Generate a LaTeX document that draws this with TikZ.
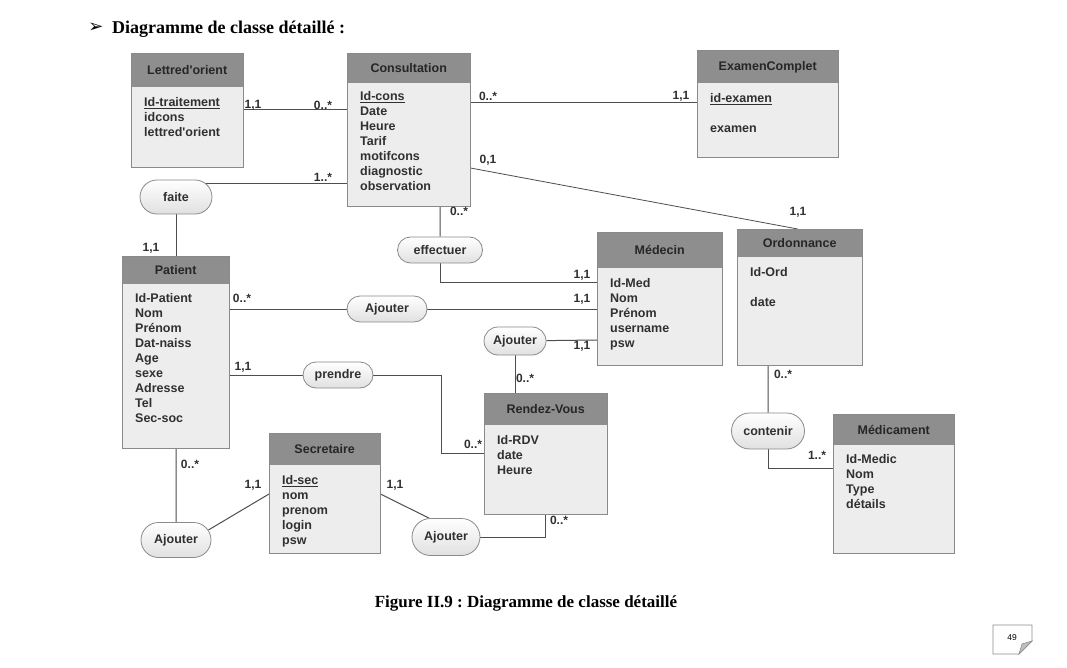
\documentclass[tikz,border=0pt]{standalone}
\usepackage{fontspec}
\setmainfont{Liberation Serif}
\newfontfamily\arialf{Liberation Sans}
\newfontfamily\dejavu{DejaVu Sans}
\usetikzlibrary{shapes.misc,calc}
\pgfdeclarelayer{bg}
\pgfsetlayers{bg,main}
\definecolor{hdrgray}{HTML}{8E8E8E}
\definecolor{bodygray}{HTML}{EDEDED}
\definecolor{bordergray}{HTML}{8A8A8A}
\definecolor{txtgray}{HTML}{303030}
\definecolor{linegray}{HTML}{4E4E4E}
\tikzset{
  boxbody/.style={fill=bodygray, draw=none, inner sep=0pt, anchor=north west},
  boxline/.style={draw=bordergray, line width=0.9pt},
  hdrtext/.style={font=\arialf\bfseries\fontsize{12.5}{15}\selectfont, text=black!85, inner sep=0pt, anchor=base},
  attrtext/.style={font=\arialf\bfseries\fontsize{12.5}{15}\selectfont, text=txtgray, inner sep=0pt, align=left, anchor=north west},
  pill/.style={rounded rectangle, draw=bordergray, line width=0.8pt, top color=white, bottom color=black!12, font=\arialf\bfseries\fontsize{12.5}{15}\selectfont, text=txtgray, inner sep=0pt},
  lab/.style={font=\arialf\bfseries\fontsize{12}{14}\selectfont, text=txtgray, inner sep=0pt},
  conn/.style={draw=linegray, line width=1pt},
}
\newcommand\umlclass[9]{%
  \node[boxbody, minimum width=#4pt, minimum height=#5pt] (#1) at (#2,#3) {};
  \fill[hdrgray] (#1.north west) rectangle ([yshift=-#6pt]#1.north east);
  \draw[boxline] (#1.north west) rectangle (#1.south east);
  \node[hdrtext] (#1-title) at ([yshift=-0.5*#6pt-4.5pt]#1.north) {#7};
  \node[attrtext] (#1-attrs) at ([xshift=13pt,yshift=-#9pt]#1.north west) {#8};
}
\begin{document}
\begin{tikzpicture}[x=1pt,y=-1pt]
\useasboundingbox (0,0) rectangle (1067,668);

% title
\node[font=\dejavu\fontsize{18}{18}\selectfont, inner sep=0pt] (arrowmark) at (96,28) {➢};
\node[font=\bfseries\fontsize{18}{20}\selectfont, anchor=base west, inner sep=0pt] (title) at (112,34) {Diagramme de classe détaillé :};

% classes
\umlclass{lettre}{131}{53}{112}{114}{34}{Lettred'orient}{\underline{Id-traitement}\\idcons\\lettred'orient}{44.5}
\umlclass{cons}{347}{53}{123}{153}{30}{Consultation}{\underline{Id-cons}\\Date\\Heure\\Tarif\\motifcons\\diagnostic\\observation}{38.5}
\umlclass{exam}{697}{50}{141}{107}{33}{ExamenComplet}{\underline{id-examen}\\[15pt]examen}{43.5}
\umlclass{med}{597}{232}{125}{133}{36}{Médecin}{Id-Med\\Nom\\Prénom\\username\\psw}{46.5}
\umlclass{ordo}{737}{229}{125}{136}{28}{Ordonnance}{Id-Ord\\[15pt]date}{38}
\umlclass{patient}{122}{256}{107}{192}{28}{Patient}{Id-Patient\\Nom\\Prénom\\Dat-naiss\\Age\\sexe\\Adresse\\Tel\\Sec-soc}{37.5}
\umlclass{rdv}{484}{393}{123}{121}{32}{Rendez-Vous}{Id-RDV\\date\\Heure}{42.5}
\umlclass{sec}{269}{433}{111}{120}{32}{Secretaire}{\underline{Id-sec}\\nom\\prenom\\login\\psw}{42.5}
\umlclass{medic}{833}{414}{121}{139}{31}{Médicament}{Id-Medic\\Nom\\Type\\détails}{40.5}

% association pills
\node[pill, minimum width=72pt, minimum height=34pt] (faite) at (176,197) {faite};
\node[pill, minimum width=85pt, minimum height=26pt] (effect) at (440,250) {effectuer};
\node[pill, minimum width=80pt, minimum height=26pt] (ajm) at (387,309) {Ajouter};
\node[pill, minimum width=62pt, minimum height=28pt] (aj2) at (515,341) {Ajouter};
\node[pill, minimum width=70pt, minimum height=26pt] (prendre) at (338,375) {prendre};
\node[pill, minimum width=73pt, minimum height=36pt] (contenir) at (768,431) {contenir};
\node[pill, minimum width=70pt, minimum height=35pt] (ajbl) at (176,540) {Ajouter};
\node[pill, minimum width=68pt, minimum height=37pt] (ajbm) at (446,537) {Ajouter};

\coordinate (prbend) at (441,375);

% connectors
\begin{pgfonlayer}{bg}
\fill[white] (0,0) rectangle (1067,668);
\draw[conn] (lettre.east |- 0,110) -- (cons.west |- 0,110);
\draw[conn] (cons.east |- 0,103) -- (exam.west |- 0,103);
\draw[conn, line width=0.8pt] (cons.east |- 0,168) -- ([xshift=-2pt]ordo.north);
\draw[conn] (faite.center |- 0,184) -- (cons.west |- 0,184);
\draw[conn] (faite) -- (faite |- patient.north);
\draw[conn] (effect |- cons.south) -- (effect);
\draw[conn] (effect) |- (med.west |- 0,282);
\draw[conn] (patient.east |- ajm) -- (med.west |- ajm);
\draw[conn] (aj2) -- (med.west |- 0,340);
\draw[conn] (aj2) -- (aj2 |- rdv.north);
\draw[conn] (patient.east |- prendre) -- (prbend) |- (rdv.west |- 0,453);
\draw[conn] (ajbl) -- (ajbl |- patient.south);
\draw[conn] ($(ajbl.east)+(-3,-10)$) -- (sec.west |- 0,494);
\draw[conn] (sec.east |- 0,494) -- ([xshift=-17pt]ajbm.north);
\draw[conn] (ajbm.east) -| (rdv.south);
\draw[conn] (contenir |- ordo.south) -- (contenir);
\draw[conn] (contenir) |- (medic.west |- 0,468);
\end{pgfonlayer}

% multiplicities
\node[lab] (l1) at (253,105) {1,1};
\node[lab] (l2) at (323,105) {0..*};
\node[lab] (l3) at (488,96) {0..*};
\node[lab] (l4) at (681,96) {1,1};
\node[lab] (l5) at (488,160) {0,1};
\node[lab] (l6) at (798,212) {1,1};
\node[lab] (l7) at (323,177) {1..*};
\node[lab] (l8) at (459,211) {0..*};
\node[lab] (l9) at (151,248) {1,1};
\node[lab] (l10) at (582,275) {1,1};
\node[lab] (l11) at (242,298) {0..*};
\node[lab] (l12) at (582,299) {1,1};
\node[lab] (l13) at (582,346) {1,1};
\node[lab] (l14) at (525,378) {0..*};
\node[lab] (l15) at (243,367) {1,1};
\node[lab] (l16) at (473,444) {0..*};
\node[lab] (l17) at (190,464) {0..*};
\node[lab] (l18) at (253,485) {1,1};
\node[lab] (l19) at (395,485) {1,1};
\node[lab] (l20) at (559,520) {0..*};
\node[lab] (l21) at (783,374) {0..*};
\node[lab] (l22) at (817,455) {1..*};

% caption
\node[font=\bfseries\fontsize{17}{20}\selectfont, anchor=base, inner sep=0pt] (caption) at (526,607) {\frenchspacing Figure II.9 : Diagramme de classe détaillé};

% page number
\draw[draw=black!45, fill=white, line width=0.8pt] (993,625) -- (1032,625) -- (1032,641) -- (1019,654) -- (993,654) -- cycle;
\draw[draw=black!45, fill=black!25, line width=0.6pt] (1019,654) -- (1032,641) -- (1022,644) -- cycle;
\node[font=\arialf\fontsize{8.5}{10}\selectfont, inner sep=0pt] (pagenum) at (1012,638) {49};
\end{tikzpicture}
\end{document}
